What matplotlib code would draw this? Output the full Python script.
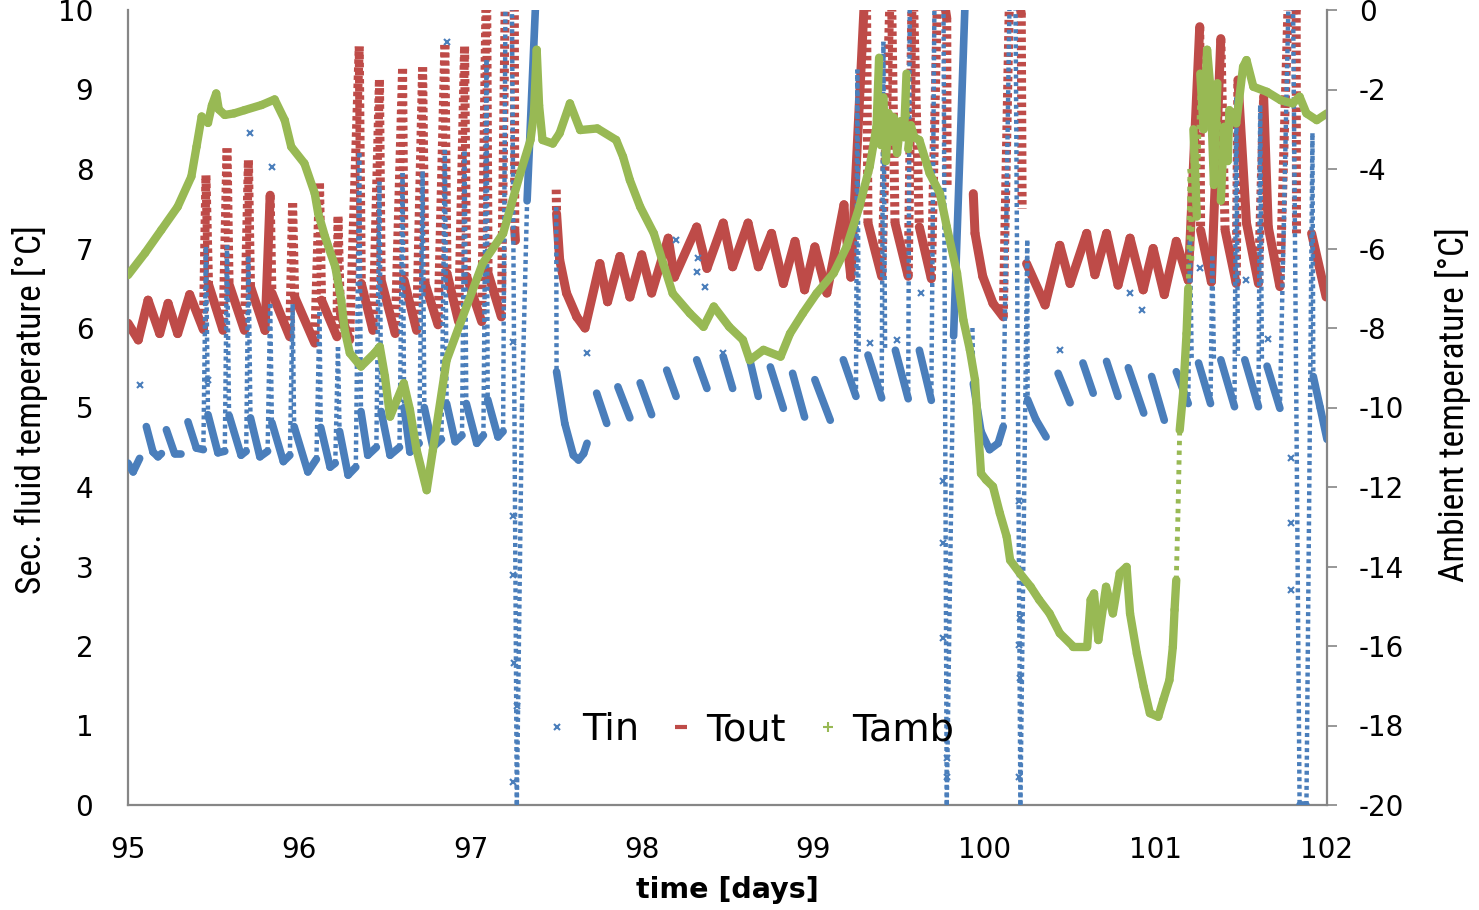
import numpy as np
import matplotlib
matplotlib.use('Agg')
import matplotlib.pyplot as plt
from matplotlib.lines import Line2D
from matplotlib.collections import LineCollection

nan = np.nan
plt.rcParams['axes.unicode_minus'] = False

# secondary fluid inlet temperature (day, degC); nan = no data shown
tin_pts = [
    (95.000, 4.30), (95.030, 4.19), (95.068, 4.36), (nan, nan),
    (95.107, 4.76), (95.146, 4.44), (95.175, 4.38), (95.195, 4.42), (nan, nan),
    (95.224, 4.72), (95.272, 4.42), (95.311, 4.42), (nan, nan),
    (95.350, 4.82), (95.399, 4.49), (95.440, 4.47),
    (95.455, 7.02), (95.467, 4.91), (95.525, 4.43), (95.565, 4.45),
    (95.578, 7.04), (95.590, 4.90), (95.660, 4.40), (95.690, 4.45),
    (95.703, 6.90), (95.715, 4.87), (95.770, 4.38), (95.815, 4.45),
    (95.830, 6.30), (95.840, 4.81), (95.907, 4.32), (95.945, 4.40),
    (95.961, 6.30), (95.970, 4.76), (96.050, 4.19), (96.100, 4.35),
    (96.118, 6.20), (96.125, 4.75), (96.180, 4.25), (96.210, 4.30),
    (96.226, 5.76), (96.235, 4.70), (96.285, 4.15), (96.330, 4.25),
    (96.350, 8.20), (96.360, 4.95), (96.400, 4.40), (96.450, 4.50),
    (96.468, 7.84), (96.478, 4.95), (96.530, 4.40), (96.585, 4.50),
    (96.603, 7.95), (96.612, 5.00), (96.646, 4.44), (96.700, 4.55),
    (96.720, 7.97), (96.730, 5.00), (96.780, 4.50), (96.830, 4.60),
    (96.850, 8.24), (96.860, 5.05), (96.910, 4.57), (96.950, 4.65),
    (96.965, 8.22), (96.975, 5.05), (97.036, 4.55), (97.075, 4.65),
    (97.093, 9.37), (97.100, 5.10), (97.160, 4.63), (97.190, 4.70),
    (97.205, 10.6), (97.240, 10.6), (97.270, 0.00), (97.300, 5.00),
    (97.330, 7.60), (97.390, 10.6), (nan, nan),
    (97.500, 7.52), (97.502, 5.45), (97.550, 4.80), (97.600, 4.40),
    (97.630, 4.34), (97.660, 4.42), (97.680, 4.55), (nan, nan),
    (97.736, 5.18), (97.795, 4.80), (nan, nan),
    (97.860, 5.26), (97.930, 4.87), (nan, nan),
    (97.990, 5.31), (98.057, 4.91), (nan, nan),
    (98.145, 5.47), (98.200, 5.14), (nan, nan),
    (98.320, 5.60), (98.380, 5.24), (nan, nan),
    (98.475, 5.64), (98.530, 5.24), (nan, nan),
    (98.630, 5.60), (98.680, 5.14), (nan, nan),
    (98.750, 5.51), (98.826, 4.99), (nan, nan),
    (98.880, 5.43), (98.950, 4.88), (nan, nan),
    (99.010, 5.35), (99.100, 4.84), (nan, nan),
    (99.176, 5.60), (99.250, 5.14), (99.258, 9.25), (99.266, 5.70), (nan, nan),
    (99.320, 5.66), (99.400, 5.12), (99.410, 9.60), (99.420, 5.75), (nan, nan),
    (99.480, 5.72), (99.555, 5.11), (99.565, 10.6), (nan, nan),
    (99.620, 5.72), (99.690, 5.09), (99.710, 10.6), (99.760, 10.6),
    (99.780, 0.00), (99.820, 5.90), (99.895, 10.6), (nan, nan),
    (99.930, 6.00), (99.935, 5.30), (99.980, 4.70), (100.030, 4.47),
    (100.080, 4.55), (100.110, 4.76), (100.150, 10.6), (100.180, 10.6),
    (100.210, 0.00), (100.250, 7.10), (100.252, 5.10), (100.300, 4.85),
    (100.360, 4.63), (nan, nan),
    (100.430, 5.43), (100.500, 5.06), (nan, nan),
    (100.575, 5.56), (100.635, 5.18), (nan, nan),
    (100.713, 5.58), (100.780, 5.14), (nan, nan),
    (100.840, 5.50), (100.930, 4.93), (nan, nan),
    (100.976, 5.39), (101.050, 4.84), (nan, nan),
    (101.120, 5.45), (101.190, 5.05), (101.200, 7.10), (101.210, 5.60), (nan, nan),
    (101.250, 5.56), (101.320, 5.05), (101.330, 6.90), (101.340, 5.60), (nan, nan),
    (101.380, 5.60), (101.460, 5.01), (101.470, 8.90), (101.480, 5.65), (nan, nan),
    (101.520, 5.60), (101.600, 5.01), (101.610, 8.80), (101.620, 5.60), (nan, nan),
    (101.650, 5.52), (101.725, 4.99), (101.780, 10.6), (101.800, 10.6),
    (101.840, 0.00), (101.880, 0.00), (101.915, 8.45), (101.920, 5.39),
    (101.960, 5.00), (102.000, 4.60),
]

# isolated inlet readings away from the main trace
tin_stray = [
    (95.068, 5.28), (95.467, 5.35), (95.712, 8.45), (95.840, 8.03), (96.860, 9.60),
    (97.250, 5.83), (97.250, 3.63), (97.250, 2.89), (97.255, 1.79), (97.270, 1.24),
    (97.250, 0.29), (97.680, 5.68), (98.200, 7.11), (98.330, 6.88), (98.320, 6.71),
    (98.370, 6.51), (98.475, 5.68), (99.330, 5.81), (99.490, 5.85), (99.630, 6.44),
    (99.760, 4.07), (99.760, 3.29), (99.760, 2.10), (99.780, 0.59), (99.780, 0.35),
    (100.200, 3.82), (100.207, 2.35), (100.200, 2.01), (100.207, 1.60), (100.200, 0.35),
    (100.440, 5.72), (100.850, 6.44), (100.920, 6.23), (101.257, 6.75), (101.530, 6.61),
    (101.657, 5.86), (101.790, 4.36), (101.790, 3.55), (101.790, 2.70),
]

# secondary fluid outlet temperature (day, degC)
tout_pts = [
    (95.000, 6.06), (95.060, 5.85), (95.117, 6.35), (95.185, 5.93), (95.234, 6.31),
    (95.290, 5.93), (95.360, 6.42), (95.440, 5.98),
    (95.455, 7.92), (95.470, 6.55), (95.555, 5.97),
    (95.578, 8.26), (95.590, 6.55), (95.680, 5.97),
    (95.703, 8.11), (95.715, 6.52), (95.800, 5.97),
    (95.830, 7.67), (95.840, 6.44), (95.944, 5.89),
    (95.961, 7.57), (95.973, 6.39), (96.090, 5.81),
    (96.118, 7.82), (96.130, 6.35), (96.220, 5.89),
    (96.226, 7.40), (96.240, 6.18), (96.294, 5.85),
    (96.350, 9.54), (96.362, 6.56), (96.430, 5.97),
    (96.468, 9.12), (96.478, 6.60), (96.560, 5.93),
    (96.603, 9.26), (96.612, 6.60), (96.685, 5.97),
    (96.720, 9.28), (96.734, 6.56), (96.810, 6.04),
    (96.850, 9.56), (96.862, 6.69), (96.930, 6.08),
    (96.965, 9.54), (96.977, 6.65), (97.065, 6.08),
    (97.093, 10.6), (97.102, 6.69), (97.180, 6.14),
    (97.205, 10.6), (97.255, 10.6), (97.258, 7.23), (97.262, 7.10), (nan, nan),
    (97.500, 7.74), (97.502, 7.44), (97.520, 6.86), (97.560, 6.44), (97.620, 6.14),
    (97.668, 6.00), (97.755, 6.81), (97.800, 6.33), (97.872, 6.90), (97.930, 6.39),
    (97.999, 6.92), (98.057, 6.44), (98.154, 7.13), (98.190, 6.64), (98.320, 7.27),
    (98.380, 6.75), (98.475, 7.32), (98.530, 6.77), (98.620, 7.32), (98.680, 6.77),
    (98.757, 7.19), (98.826, 6.56), (98.894, 7.09), (98.950, 6.48), (99.010, 7.02),
    (99.080, 6.44),
    (99.180, 7.55), (99.188, 7.27), (99.220, 6.64),
    (99.310, 10.6), (99.320, 7.32), (99.400, 6.65),
    (99.455, 10.6), (99.478, 7.32), (99.555, 6.65),
    (99.580, 10.6), (99.620, 7.27), (99.690, 6.62),
    (99.730, 10.6), (99.780, 9.90), (99.782, 7.80), (nan, nan),
    (99.935, 7.69), (99.945, 7.19), (99.990, 6.65), (100.050, 6.31), (100.110, 6.14),
    (100.150, 10.6), (100.215, 9.96), (100.220, 7.50), (nan, nan),
    (100.246, 6.81), (100.354, 6.29), (100.440, 7.04), (100.500, 6.56), (100.597, 7.19),
    (100.645, 6.67), (100.713, 7.19), (100.780, 6.54), (100.850, 7.13), (100.927, 6.48),
    (100.985, 7.00), (101.050, 6.42), (101.120, 7.09), (101.190, 6.60),
    (101.257, 9.79), (101.262, 7.23), (101.325, 6.58),
    (101.380, 9.64), (101.405, 7.23), (101.470, 6.56),
    (101.480, 9.12), (101.530, 7.32), (101.600, 6.56),
    (101.630, 8.91), (101.657, 7.27), (101.725, 6.52),
    (101.780, 10.6), (101.820, 10.0), (101.822, 7.19), (nan, nan),
    (101.910, 7.19), (101.995, 6.39),
]

# ambient temperature (day, degC), right axis
tamb_pts = [
    (95.000, -6.67), (95.100, -6.11), (95.195, -5.53), (95.290, -4.95), (95.370, -4.19),
    (95.400, -3.44), (95.430, -2.68), (95.467, -2.84), (95.490, -2.40), (95.515, -2.10),
    (95.530, -2.50), (95.565, -2.64), (95.620, -2.60), (95.680, -2.52), (95.780, -2.39),
    (95.856, -2.25), (95.915, -2.77), (95.953, -3.44), (96.030, -3.86), (96.090, -4.61),
    (96.110, -5.11), (96.150, -5.70), (96.210, -6.46), (96.245, -7.30), (96.265, -8.05),
    (96.295, -8.63), (96.360, -8.97), (96.440, -8.63), (96.470, -8.47), (96.500, -9.22),
    (96.530, -10.23), (96.570, -9.81), (96.610, -9.39), (96.646, -10.06), (96.685, -11.07),
    (96.744, -12.08), (96.780, -11.07), (96.860, -8.81), (96.940, -7.88), (97.070, -6.38),
    (97.190, -5.62), (97.290, -4.11), (97.350, -3.27), (97.370, -2.60), (97.386, -1.00),
    (97.400, -2.40), (97.420, -3.27), (97.480, -3.36), (97.520, -3.10), (97.580, -2.35),
    (97.640, -3.02), (97.740, -2.98), (97.850, -3.27), (97.890, -3.69), (97.930, -4.28),
    (97.990, -4.95), (98.070, -5.62), (98.125, -6.38), (98.180, -7.13), (98.280, -7.63),
    (98.360, -7.97), (98.420, -7.46), (98.510, -7.97), (98.590, -8.30), (98.630, -8.81),
    (98.710, -8.55), (98.810, -8.72), (98.865, -8.14), (98.940, -7.63), (99.020, -7.13),
    (99.120, -6.62), (99.196, -5.95), (99.270, -4.95), (99.330, -3.94), (99.370, -2.94),
    (99.385, -1.20), (99.395, -3.40), (99.410, -2.20), (99.425, -3.80), (99.440, -2.60),
    (99.455, -3.30), (99.470, -2.70), (99.490, -3.60), (99.510, -2.80), (99.530, -3.20),
    (99.545, -1.60), (99.555, -3.50), (99.570, -2.90), (99.590, -3.20), (99.620, -3.27),
    (99.680, -4.11), (99.740, -4.61), (99.780, -5.45), (99.840, -6.62), (99.877, -7.80),
    (99.915, -8.55), (99.945, -9.31), (99.964, -10.57), (99.980, -11.66), (100.010, -11.82),
    (100.050, -11.99), (100.090, -12.66), (100.130, -13.25), (100.150, -13.84), (100.207, -14.17),
    (100.270, -14.51), (100.320, -14.84), (100.380, -15.18), (100.440, -15.68), (100.520, -16.02),
    (100.600, -16.02), (100.620, -14.84), (100.640, -14.68), (100.665, -15.85), (100.710, -14.51),
    (100.750, -15.18), (100.790, -14.17), (100.830, -14.01), (100.850, -15.18), (100.890, -16.19),
    (100.930, -17.03), (100.966, -17.69), (101.015, -17.78), (101.044, -17.36), (101.080, -16.86),
    (101.100, -16.02), (101.110, -15.09), (101.120, -14.34), (101.130, -12.66), (101.140, -10.57),
    (101.160, -9.64), (101.180, -8.14), (101.190, -7.00), (101.200, -4.00), (101.210, -6.30),
    (101.220, -3.00), (101.240, -5.20), (101.260, -1.60), (101.280, -3.00), (101.300, -1.00),
    (101.320, -2.00), (101.340, -4.40), (101.360, -1.84), (101.380, -4.80), (101.400, -2.94),
    (101.420, -3.80), (101.430, -2.52), (101.470, -2.85), (101.510, -1.43), (101.530, -1.26),
    (101.570, -1.93), (101.650, -2.06), (101.730, -2.27), (101.800, -2.35), (101.840, -2.18),
    (101.880, -2.60), (101.940, -2.77), (102.000, -2.60),
]

c_in = '#4A7EBB'
c_out = '#BE4B48'
c_amb = '#98B954'
grey = '#868686'

W, H = 1479, 910
box = [128 / W, 105 / H, 1199 / W, 795 / H]
px_day = 1199 / 7.0
narrow = ['Roboto Condensed', 'Noto Sans Condensed', 'DejaVu Sans']


def split_steep(pts, px_unit, ratio=30):
    # fast-changing stretches are logged sparsely, so draw them lighter
    solid, steep = [], []
    for (t0, v0), (t1, v1) in zip(pts[:-1], pts[1:]):
        if np.isnan([t0, v0, t1, v1]).any():
            continue
        dx = abs(t1 - t0) * px_day
        dy = abs(v1 - v0) * px_unit
        seg = [(t0, v0), (t1, v1)]
        (steep if dy > ratio * max(dx, 0.1) else solid).append(seg)
    return solid, steep


def draw_series(axis, pts, px_unit, color, lw, lw_steep, dash, z):
    solid, steep = split_steep(pts, px_unit)
    axis.add_collection(LineCollection(steep, colors=color, linewidths=lw_steep,
                                       linestyles=[dash], capstyle='butt', zorder=z))
    axis.add_collection(LineCollection(solid, colors=color, linewidths=lw,
                                       capstyle='round', joinstyle='round', zorder=z))


fig = plt.figure(figsize=(W / 100, H / 100), dpi=100)
ax = fig.add_axes(box)
ax2 = ax.twinx()

draw_series(ax, tout_pts, 795 / 10.0, c_out, 6.5, 6.5, (0, (0.5, 0.4)), 2)
draw_series(ax, tin_pts, 795 / 10.0, c_in, 5.5, 3.2, (0, (0.9, 0.8)), 3)
stray = np.array(tin_stray).T
ax.plot(stray[0], stray[1], ls='none', marker='x', ms=4, mew=1.5, color=c_in, zorder=3)
draw_series(ax2, tamb_pts, 795 / 20.0, c_amb, 6.0, 3.5, (0, (0.9, 1.1)), 2)

ax.set_xlim(95, 102)
ax.set_ylim(0, 10)
ax2.set_ylim(-20, 0)
ax.set_xticks(np.arange(95, 103))
ax.set_yticks(np.arange(0, 11))
ax2.set_yticks(np.arange(-20, 1, 2))

for s in ['top', 'right']:
    ax.spines[s].set_visible(False)
for s in ['top', 'left', 'bottom']:
    ax2.spines[s].set_visible(False)
for sp in [ax.spines['left'], ax.spines['bottom'], ax2.spines['right']]:
    sp.set_color(grey)
    sp.set_linewidth(1.6)

ax.tick_params(axis='x', length=0, labelsize=20, pad=22)
ax.tick_params(axis='y', length=0, labelsize=20, pad=25)
ax2.tick_params(axis='y', length=7, width=1.2, color=grey, direction='out', labelsize=20, pad=16)

fig.text(30 / W, 1 - 410 / H, 'Sec. fluid temperature [°C]', rotation=90,
         ha='center', va='center', fontsize=25.5, family=narrow)
fig.text(1453 / W, 1 - 405 / H, 'Ambient temperature [°C]', rotation=90,
         ha='center', va='center', fontsize=25.5, family=narrow)
fig.text(727 / W, 1 - 890 / H, 'time [days]', ha='center', va='center',
         fontsize=20.5, fontweight='bold')

handles = [
    Line2D([], [], ls='none', marker='x', ms=4, mew=1.5, color=c_in),
    Line2D([], [], ls='none', marker='_', ms=8, mew=3, color=c_out),
    Line2D([], [], ls='none', marker='+', ms=7, mew=1.5, color=c_amb),
]
ax.legend(handles, ['Tin', 'Tout', 'Tamb'], loc='center', bbox_to_anchor=(0.518, 0.094),
          ncol=3, frameon=False, fontsize=27.5, handlelength=0.7, handletextpad=0.3,
          columnspacing=0.75)

fig.savefig('out.png', dpi=100)
